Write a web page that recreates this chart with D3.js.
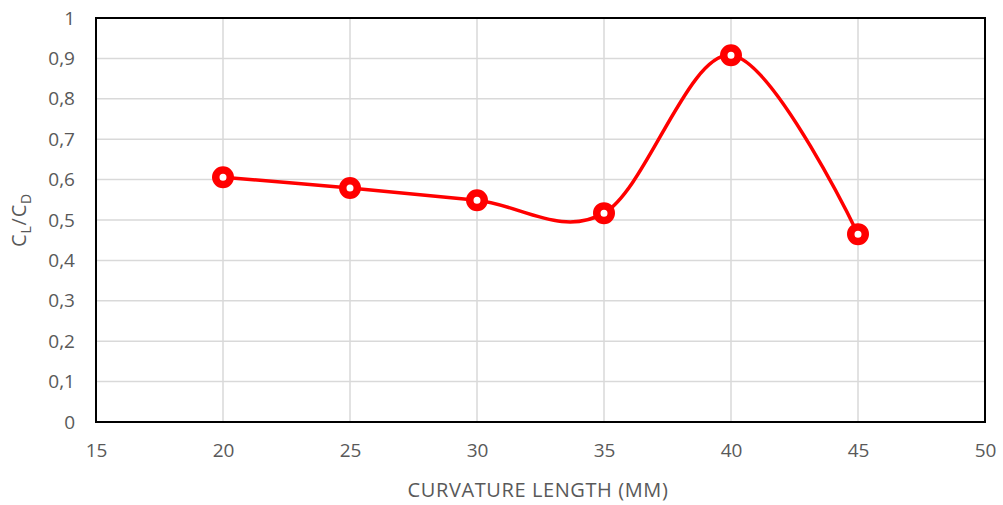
<!DOCTYPE html>
<html>
<head>
<meta charset="utf-8">
<script src="https://cdn.jsdelivr.net/npm/d3@7"></script>
<style>
  html, body { margin: 0; padding: 0; background: #fff; }
  svg { display: block; }
  text { font-family: "Open Sans", Lato, sans-serif; fill: #595959; }
</style>
</head>
<body>
<svg id="chart" width="1003" height="505"></svg>
<script>
// Curvature length (mm) against lift-to-drag ratio
const lengths = [20, 25, 30, 35, 40, 45];
const ratios = [0.606, 0.579, 0.549, 0.517, 0.908, 0.465];
const xTicks = [15, 20, 25, 30, 35, 40, 45, 50];
const yTicks = [0, 0.1, 0.2, 0.3, 0.4, 0.5, 0.6, 0.7, 0.8, 0.9, 1];

const svg = d3.select("#chart");
const margin = { left: 96, right: 18, top: 18, bottom: 83 };
const W = 1003, H = 505;

const x = d3.scaleLinear().domain([15, 50]).range([margin.left, W - margin.right]);
const y = d3.scaleLinear().domain([0, 1]).range([H - margin.bottom, margin.top]);

const fmt = v => String(+v.toFixed(1)).replace(".", ",");

// gridlines
svg.append("g").selectAll("line").data(yTicks.slice(1)).join("line")
  .attr("x1", x(15)).attr("x2", x(50))
  .attr("y1", d => y(d)).attr("y2", d => y(d))
  .attr("stroke", "#d9d9d9").attr("stroke-width", 1.5);
svg.append("g").selectAll("line").data(xTicks.slice(1, -1)).join("line")
  .attr("y1", y(0)).attr("y2", y(1))
  .attr("x1", d => x(d)).attr("x2", d => x(d))
  .attr("stroke", "#d9d9d9").attr("stroke-width", 1.5);

// axes
const xAxis = svg.append("g").attr("transform", `translate(0,${y(0)})`)
  .call(d3.axisBottom(x).tickValues(xTicks).tickSize(0).tickPadding(22).tickFormat(d => d));
const yAxis = svg.append("g").attr("transform", `translate(${x(15)},0)`)
  .call(d3.axisLeft(y).tickValues(yTicks).tickSize(0).tickPadding(21).tickFormat(fmt));
[xAxis, yAxis].forEach(g => {
  g.select(".domain").remove();
  g.selectAll("text").style("font-size", "19px").attr("fill", "#595959");
});

// plot frame
svg.append("rect")
  .attr("x", x(15)).attr("y", y(1))
  .attr("width", x(50) - x(15)).attr("height", y(0) - y(1))
  .attr("fill", "none").attr("stroke", "#000").attr("stroke-width", 2);

// axis titles
svg.append("text").attr("x", 538).attr("y", 497)
  .attr("text-anchor", "middle").style("font-size", "20px")
  .style("letter-spacing", "0.6px")
  .text("CURVATURE LENGTH (MM)");

const yt = svg.append("text")
  .attr("transform", `translate(26,${(y(0) + y(1)) / 2}) rotate(-90)`)
  .attr("text-anchor", "middle").style("font-size", "20px")
  .style("letter-spacing", "0.8px");
yt.append("tspan").text("C");
yt.append("tspan").text("L").attr("dy", 5).style("font-size", "14px");
yt.append("tspan").text("/C").attr("dy", -5);
yt.append("tspan").text("D").attr("dy", 5).style("font-size", "14px");

// smoothed series line
const pts = lengths.map((l, i) => [l, ratios[i]]);
const line = d3.line().x(d => x(d[0])).y(d => y(d[1])).curve(d3.curveCardinal.tension(0));
svg.append("path").datum(pts).attr("d", line)
  .attr("fill", "none").attr("stroke", "#ff0000").attr("stroke-width", 3.5);

// markers
svg.append("g").selectAll("circle").data(pts).join("circle")
  .attr("cx", d => x(d[0])).attr("cy", d => y(d[1]))
  .attr("r", 7.25).attr("fill", "#fff")
  .attr("stroke", "#ff0000").attr("stroke-width", 7.5);
</script>
</body>
</html>
